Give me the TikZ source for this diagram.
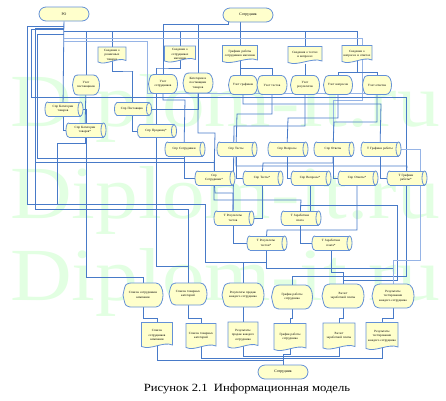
\documentclass[tikz,border=0pt]{standalone}
\usepackage{fontspec}
\setmainfont{Liberation Serif}
\usetikzlibrary{calc}
\pgfdeclarelayer{wm}\pgfdeclarelayer{bg}
\pgfsetlayers{wm,bg,main}
\definecolor{lnc}{RGB}{72,122,200}
\definecolor{lnl}{RGB}{150,180,230}
\definecolor{ndb}{RGB}{100,145,215}
\definecolor{ndf}{RGB}{255,255,204}
\definecolor{wmc}{RGB}{226,255,226}
\tikzset{
 ln/.style={draw=lnc, line width=0.8pt},
 lnlight/.style={draw=lnl, line width=0.8pt},
 shp/.style={draw=ndb, fill=ndf, line width=0.8pt},
 txt/.style={inner sep=0pt, align=center, font=\fontsize{3.2}{4.3}\selectfont},
 term/.style={shp, rounded corners=7pt, minimum height=14pt, inner sep=0pt, font=\fontsize{3.8}{4.2}\selectfont},
}
\newcommand\docN[6]{%
 \path[shp] (#2-#4/2,#3-#5/2) -- (#2+#4/2,#3-#5/2) -- (#2+#4/2,#3+#5/2-2.5)
   .. controls (#2+#4/5,#3+#5/2-6.5) and (#2-#4/5,#3+#5/2+3) .. (#2-#4/2,#3+#5/2-1) -- cycle;
 \pgfmathsetlengthmacro\tw{#4-3}%
 \node[txt, text width=\tw, minimum width=#4pt, minimum height=#5pt] (#1) at (#2,#3) {#6};}
\newcommand\dispN[6]{%
 \path[shp] (#2-#4/2,#3) .. controls (#2-#4/2+#4*0.06,#3-#5/2) .. (#2-#4/2+#4*0.28,#3-#5/2)
  -- (#2+#4/2-#5*0.3,#3-#5/2) .. controls (#2+#4/2+#5*0.1,#3-#5/2) and (#2+#4/2+#5*0.1,#3+#5/2) .. (#2+#4/2-#5*0.3,#3+#5/2)
  -- (#2-#4/2+#4*0.28,#3+#5/2) .. controls (#2-#4/2+#4*0.06,#3+#5/2) .. (#2-#4/2,#3) -- cycle;
 \pgfmathsetlengthmacro\tw{#4*0.8}%
 \node[txt, text width=\tw, minimum width=#4pt, minimum height=#5pt] (#1) at (#2,#3) {#6};}
\newcommand\cylN[6]{%
 \pgfmathsetlengthmacro\ry{#5/2}%
 \filldraw[shp] (#2-#4/2+2.5,#3) ellipse [x radius=2.5pt, y radius=\ry];
 \fill[ndf] (#2-#4/2+2.5,#3-#5/2) rectangle (#2+#4/2-2.5,#3+#5/2);
 \draw[draw=ndb,line width=0.8pt] (#2-#4/2+2.5,#3-#5/2) -- (#2+#4/2-2.5,#3-#5/2) (#2-#4/2+2.5,#3+#5/2) -- (#2+#4/2-2.5,#3+#5/2);
 \filldraw[shp] (#2+#4/2-2.5,#3) ellipse [x radius=2.5pt, y radius=\ry];
 \pgfmathsetlengthmacro\tw{#4-9}%
 \node[txt, text width=\tw, minimum width=#4pt, minimum height=#5pt] (#1) at (#2-1,#3) {#6};}
\begin{document}
\begin{tikzpicture}[x=1pt,y=-1pt]
\useasboundingbox (0,0) rectangle (446,400);
% watermark
\begin{pgfonlayer}{wm}
\foreach \yy [count=\i] in {126,218,300}
  \node[anchor=base west, text=wmc, font=\fontsize{75}{75}\selectfont, inner sep=0pt, xscale=1.14] (wm\i) at (10,\yy) {Diplom-it.ru};
\end{pgfonlayer}
% terminals
\node[term, minimum width=50pt] (ro) at (64,14) {РО};
\node[term, minimum width=50pt] (sotrA) at (248,15) {Сотрудник};
\node[term, minimum width=50pt] (sotrB) at (283,372) {Сотрудник};
% documents row 1
\docN{dA}{112}{55}{28}{16}{Сведения о розничных товарах}
\docN{dB}{180}{54}{31}{16}{Сведения о сотрудниках магазина}
\docN{dC}{240}{54}{35}{17}{Графики работы сотрудников магазина}
\docN{dD}{305}{55}{34}{17}{Сведения о тестах и вопросах}
\docN{dE}{357}{54}{30}{17}{Сведения о вопросах и ответах}
% displays row 2
\dispN{uA}{86}{85}{27}{20}{Учет поставщиков}
\dispN{uB}{163}{84}{29}{19}{Учет сотрудников}
\dispN{uC}{198}{83}{30}{20}{Категории и поставщики товаров}
\dispN{uD}{243}{85}{29}{19}{Учет графиков}
\dispN{uE}{272}{85}{30}{19}{Учет тестов}
\dispN{uF}{305}{85}{29}{19}{Учет результатов}
\dispN{uG}{338}{85}{29}{19}{Учет вопросов}
\dispN{uH}{377}{85}{29}{19}{Учет ответов}
% storage
\cylN{cA}{64}{109}{38}{14}{Спр Категории\\товаров}
\cylN{cB}{133}{109}{37}{13}{Спр Поставщик}
\cylN{cC}{86}{130}{40}{14}{Спр Категории\\товаров*}
\cylN{cD}{157}{131}{39}{13}{Спр Продавец*}
\cylN{sA}{185}{149}{40}{14}{Спр Сотрудники}
\cylN{sB}{237}{149}{40}{14}{Спр Тесты}
\cylN{sC}{288}{149}{40}{14}{Спр Вопросы}
\cylN{sD}{334}{149}{40}{14}{Спр Ответы}
\cylN{sE}{381}{149}{40}{14}{Т Графики работы}
\cylN{tA}{215}{178}{40}{14}{Спр\\Сотрудники*}
\cylN{tB}{263}{178}{40}{14}{Спр Тесты*}
\cylN{tC}{311}{178}{40}{14}{Спр Вопросы*}
\cylN{tD}{358}{178}{40}{14}{Спр Ответы*}
\cylN{tE}{407}{178}{40}{14}{Т Графики\\работы*}
\cylN{rA}{234}{218}{40}{14}{Т Результаты\\тестов}
\cylN{rB}{267}{243}{40}{14}{Т Результаты\\тестов*}
\cylN{zA}{301}{218}{40}{14}{Т Заработная\\плата}
\cylN{zB}{332}{243}{40}{14}{Т Заработная\\плата*}
% displays row 7
\dispN{pA}{143}{295}{40}{24}{Список сотрудников компании}
\dispN{pB}{188}{294}{38}{22}{Список товарных категорий}
\dispN{pC}{243}{295}{42}{24}{Результаты продаж каждого сотрудника}
\dispN{pD}{292}{297}{41}{24}{График работы сотрудника}
\dispN{pE}{343}{296}{42}{24}{Расчет заработной платы}
\dispN{pF}{393}{296}{42}{24}{Результаты тестирования каждого сотрудника}
% documents row 8
\docN{qA}{157}{335}{31}{25}{Список сотрудников компании}
\docN{qB}{201}{336}{30}{25}{Список товарных категорий}
\docN{qC}{243}{335}{30}{26}{Результаты продаж каждого сотрудника}
\docN{qD}{290}{337}{32}{27}{График работы сотрудника}
\docN{qE}{339}{336}{32}{26}{Расчет заработной платы}
\docN{qF}{382}{336}{32}{27}{Результаты тестирования каждого сотрудника}
% caption
\node[font=\fontsize{11}{12}\selectfont, anchor=base, inner sep=0pt, xscale=1.15] (cap) at (247,391) {Рисунок 2.1\enspace Информационная модель};
% connectors
\begin{pgfonlayer}{bg}
\coordinate (b26) at (64,26);
\coordinate (b28) at (64,28);
\coordinate (b29) at (64,29.5);
\coordinate (b31) at (64,31);
\coordinate (b34) at (64,34);
\coordinate (b38) at (64,38);
\coordinate (b41) at (64,41);
\coordinate (s24) at (228,24);
\coordinate (j162) at (35,162);
\draw[ln] (ro) -- (cA);
\draw[ln] (b31) -| (dE.center);
\draw[ln] (b31) -| (dA.center);
\draw[ln] (b31) -| (uA.center);
\draw[ln] (b31) -| (dB.center);
\draw[ln] (b31) -| (dD.center);
\draw[ln] (sotrA.center -| dC.center) -- (dC.center);
\draw[ln] (sotrA.center -| s24) -- (s24) -| (uB.center);
\draw[ln] (s24) -| (uC.center);
\draw[lnlight] (b38) -| (362,100) -| (sD.center);
\draw[lnlight] (b41) -| (147,93) -- (uH.center |- 0,93);
\draw[ln] (dA.center) |- (133,71) -| (cB.center);
\draw[ln] (dB.center) |- (157,68) -| (cD.center);
\draw[ln] (cD.center) |- (188,266) -- (pB.center);
\draw[ln] (dC.center) |- (uD.center);
\draw[ln] (dC.center) |- (272,68) -- (uE.center);
\draw[ln] (dD) -- (uF);
\draw[ln] (dE.center) |- (338,72) -- (uG.center);
\draw[ln] (dE.center) |- (377,72) -- (uH.center);
\draw[ln] (uA) -- (cC);
\draw[ln] (uB.center) |- (185,100) -- (sA.center);
\draw[ln] (uC.center) |- (215,133) -- (tA.center);
\draw[ln] (uC.center) |- (cB.center);
\draw[ln] (uD.center) |- (381,104) -- (sE.center);
\draw[ln] (uE.center) |- (237,114) -- (sB.center);
\draw[ln] (uF.center) |- (234,126) -- (rA.center);
\draw[ln] (uG.center) |- (288,118) -- (sC.center);
\draw[ln] (uH.center) |- (334,122) -- (sD.center);
\draw[ln] (cA.center) |- (cC.center);
\draw[ln] (cB.center) |- (cD.center);
\draw[ln] (cC.center) |- (57,143) -- (57,204);
\draw[ln] (b26) -| (27,204) -- (205,204) |- (243,262) -- (pC.center);
\draw[ln] (b28) -| (35,209) -| (pB.center);
\draw[ln] (b29) -| (31,97) -| (tE.center);
\draw[ln] (b34) -| (37,158) -| (sA.center);
\draw[ln] (j162) -| (tA.center);
\draw[ln] (cA.center) -| (86,277) -| (pA.center);
\draw[ln] (tA.center) -- (215,193) -| (rA.center);
\draw[ln] (tA.center) |- (301,200) -- (zA.center);
\draw[ln] (tB.center) |- (rA.center);
\draw[ln] (tC.center) -- (tC.center |- zA.center);
\draw[ln] (tD.center) |- (267,230) -- (rB.center);
\draw[ln] (rA.center) |- (rB.center);
\draw[ln] (zA.center) |- (zB.center);
\draw[ln] (rB.center) |- (393,268) -- (pF.center);
\draw[ln] (rB.center) |- (243,262);
\draw[ln] (zB.center) |- (343,272) -- (pE.center);
\draw[ln] (tE.center) |- (292,276) -- (pD.center);
\draw[ln] (sA.center) |- (tA.center);
\draw[ln] (sB.center) |- (tB.center);
\draw[ln] (sC.center) |- (tC.center);
\draw[ln] (sD.center) |- (tD.center);
\draw[ln] (sE.center) |- (tE.center);
\draw[ln] (sD.center) |- (263,163) -- (tB.center);
\draw[ln] (sB.center) |- (407,166) -- (tE.center);
\draw[ln] (zA.center) |- (397,205) |- (343,280) -- (pE.center);
\draw[lnlight] (sE.center) -| (420,260) -| (pF.center);
\draw[ln] (pA.center) |- (157,318) -- (qA.center);
\draw[ln] (pB.center) |- (201,318) -- (qB.center);
\draw[ln] (pC) -- (qC);
\draw[ln] (pD.center) |- (290,318) -- (qD.center);
\draw[ln] (pE.center) |- (339,318) -- (qE.center);
\draw[ln] (pF.center) |- (382,318) -- (qF.center);
\draw[ln] (qA.center) |- (283,360) -- (sotrB.center);
\draw[ln] (qB.center) |- (283,358);
\draw[ln] (qC.center) |- (283,356);
\draw[ln] (qD.center) |- (283,354) -- (sotrB.center);
\draw[ln] (qE.center) |- (283,356);
\draw[ln] (qF.center) |- (283,358);
\end{pgfonlayer}
\end{tikzpicture}
\end{document}
